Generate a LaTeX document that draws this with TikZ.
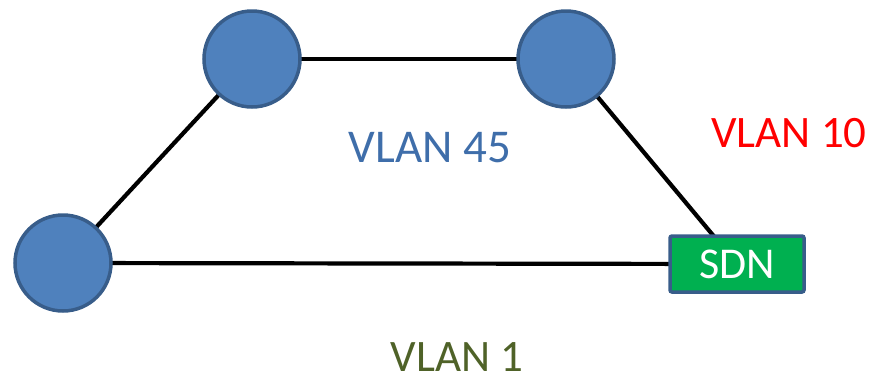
\documentclass[tikz,border=0pt]{standalone}
\usepackage{fontspec}
\setmainfont{Carlito}
\definecolor{nodefill}{HTML}{4F81BD}
\definecolor{nodeborder}{HTML}{385D8A}
\definecolor{sdngreen}{HTML}{00B050}
\definecolor{vlanblue}{HTML}{3F6EAA}
\definecolor{vlanolive}{HTML}{4F6228}
\tikzset{
  sw/.style={circle, draw=nodeborder, fill=nodefill, line width=3.5pt, minimum size=96pt, inner sep=0pt},
  sdnbox/.style={rectangle, rounded corners=2pt, draw=nodeborder, fill=sdngreen, line width=3.5pt, minimum width=134pt, minimum height=56pt, inner sep=0pt, text=white, font=\fontsize{44}{50}\selectfont},
  link/.style={draw=black, line width=4.2pt},
  lbl/.style={font=\fontsize{45}{54}\selectfont, inner sep=0pt, text depth=0pt}
}
\begin{document}
\begin{tikzpicture}[x=1pt,y=-1pt]
\useasboundingbox (0,0) rectangle (879,376);
\coordinate (pL) at (63,263);
\coordinate (pA) at (252,59);
\coordinate (pB) at (566,59);
\coordinate (pS) at (737,264);
\draw[link] (pL) -- (pA);
\draw[link] (pA) -- (pB);
\draw[link] (pB) -- (pS);
\draw[link] (pL) -- (pS);
\node[sw] (L) at (pL) {};
\node[sw] (A) at (pA) {};
\node[sw] (B) at (pB) {};
\node[sdnbox] (S) at (pS) {SDN};
\node[lbl, text=vlanblue, font=\fontsize{47}{56}\selectfont] (v45) at (430,147) {VLAN 45};
\node[lbl, text=red] (v10) at (789,133) {VLAN 10};
\node[lbl, text=vlanolive, anchor=base] (v1) at (457,371) {VLAN 1};
\end{tikzpicture}
\end{document}
